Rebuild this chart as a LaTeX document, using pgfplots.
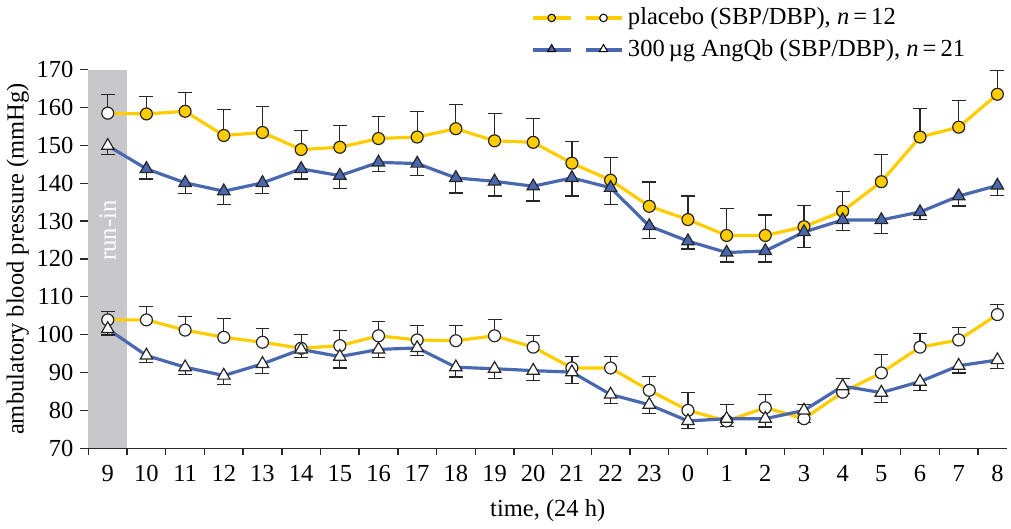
\documentclass[border=0pt]{standalone}
\usepackage{fontspec}
\setmainfont{Liberation Serif}
\usepackage{pgfplots}
\pgfplotsset{compat=1.18}
\usepackage{pgfplotstable}
\definecolor{ycol}{RGB}{255,204,0}
\definecolor{bcol}{RGB}{74,104,176}
\definecolor{runin}{RGB}{200,200,202}
\definecolor{axc}{RGB}{40,40,40}

\pgfplotstableread{
x y e
0 158.5 5.0
1 158.3 4.6
2 159.0 5.0
3 152.6 6.8
4 153.4 6.9
5 148.9 5.1
6 149.5 5.8
7 151.8 5.8
8 152.2 6.8
9 154.4 6.3
10 151.2 7.2
11 150.8 6.3
12 145.3 5.8
13 140.8 5.9
14 133.9 6.4
15 130.4 6.2
16 126.2 7.2
17 126.2 5.4
18 128.5 5.7
19 132.6 5.3
20 140.4 7.1
21 152.2 7.5
22 154.8 7.0
23 163.5 6.2
}\plaSBP

\pgfplotstableread{
x y e
0 149.9 2.4
1 143.8 2.7
2 140.1 2.9
3 137.9 3.6
4 140.1 2.9
5 143.8 2.7
6 142.0 3.5
7 145.5 2.4
8 145.2 3.1
9 141.4 4.0
10 140.5 3.9
11 139.2 3.9
12 141.4 4.8
13 138.8 4.4
14 128.7 3.4
15 124.7 2.1
16 121.7 2.5
17 122.1 2.9
18 127.1 4.1
19 130.3 2.7
20 130.3 3.6
21 132.4 2.0
22 136.6 2.6
23 139.4 2.6
}\angSBP

\pgfplotstableread{
x y e
0 103.9 2.2
1 103.9 3.6
2 101.2 3.5
3 99.3 5.0
4 98.0 3.7
5 96.4 3.7
6 97.1 4.1
7 99.7 3.8
8 98.6 3.8
9 98.4 4.0
10 99.7 4.2
11 96.7 3.0
12 91.2 3.1
13 91.2 3.1
14 85.3 3.6
15 80.0 4.7
16 77.2 4.4
17 80.7 3.6
18 77.8 3.8
19 84.8 3.7
20 89.9 4.8
21 96.7 3.7
22 98.6 3.3
23 105.3 2.6
}\plaDBP

\pgfplotstableread{
x y e
0 101.5 1.6
1 94.5 1.9
2 91.4 2.0
3 89.2 2.4
4 92.3 2.5
5 96.1 2.2
6 94.2 3.0
7 96.1 2.1
8 96.5 2.0
9 91.4 2.6
10 91.0 2.5
11 90.5 2.6
12 90.1 3.1
13 84.2 2.4
14 81.5 2.4
15 77.2 1.9
16 77.8 2.0
17 77.8 2.2
18 80.0 3.1
19 86.4 1.9
20 84.7 2.7
21 87.6 2.3
22 91.8 1.9
23 93.3 2.2
}\angDBP

\begin{document}
\begin{tikzpicture}[font=\fontsize{12.3}{14.8}\selectfont]
\begin{axis}[
  scale only axis,
  width=461pt, height=190pt,
  xmin=-0.5, xmax=23.25,
  ymin=70, ymax=170,
  axis x line*=bottom, axis y line*=left,
  axis line style={axc, line width=0.7pt, -},
  xtick={0,...,23},
  xticklabels={9,10,11,12,13,14,15,16,17,18,19,20,21,22,23,0,1,2,3,4,5,6,7,8},
  major x tick style={draw=none},
  minor xtick={-0.5,0.5,...,22.5},
  minor x tick style={axc, line width=0.7pt},
  minor tick length=3.5pt,
  ytick={70,80,...,170},
  major tick length=4pt,
  tick style={axc, line width=0.7pt},
  tick align=outside,
  x tick label style={yshift=-1pt},
  /pgf/number format/assume math mode=true,
  xlabel={time, (24 h)},
  ylabel={ambulatory blood pressure (mmHg)},
  xlabel style={yshift=-2pt},
  ylabel style={yshift=-3pt},
  clip=false,
  legend style={at={(0.475,1.185)}, anchor=north west, draw=none, fill=none,
    row sep=2pt, font=\fontsize{12.3}{14.8}\selectfont},
  legend cell align=left,
  error bars/error bar style={black!85, line width=0.6pt},
  error bars/error mark options={rotate=90, mark size=3.5pt, black!85, line width=0.6pt},
]
\fill[runin] (axis cs:-0.5,70) rectangle (axis cs:0.5,170);
\node[rotate=90, text=white] at (axis cs:0,127.5) {run-in};

\addlegendimage{legend image code/.code={
  \draw[ycol, line width=1.6pt] (0pt,0pt) -- (19pt,0pt);
  \draw[black, fill=ycol, line width=0.5pt] (9.5pt,0pt) circle (1.9pt);
  \draw[ycol, line width=1.6pt] (26.5pt,0pt) -- (45pt,0pt);
  \draw[black, fill=white, line width=0.5pt] (35.5pt,0pt) circle (1.9pt);
}}
\addlegendentry{placebo (SBP/DBP), \textit{n}\,=\,12}
\addlegendimage{legend image code/.code={
  \draw[bcol, line width=1.6pt] (0pt,0pt) -- (19pt,0pt);
  \path plot[mark=triangle*, mark size=2.4pt, mark options={draw=black, fill=bcol, line width=0.5pt}] coordinates {(9.5pt,0.3pt)};
  \draw[bcol, line width=1.6pt] (26.5pt,0pt) -- (45pt,0pt);
  \path plot[mark=triangle*, mark size=2.4pt, mark options={draw=black, fill=white, line width=0.5pt}] coordinates {(35.5pt,0.3pt)};
}}
\addlegendentry{300\,µg AngQb (SBP/DBP), \textit{n}\,=\,21}

% SBP placebo
\addplot[ycol, line width=1.6pt, mark=*, mark size=3pt, mark indices={2,...,24},
  mark options={draw=black!85, fill=ycol, line width=0.6pt},
  error bars/.cd, y dir=plus, y explicit]
  table[x=x, y=y, y error=e] {\plaSBP};
% SBP AngQb
\addplot[bcol, line width=1.6pt, mark=triangle*, mark size=3.6pt, mark indices={2,...,24},
  mark options={draw=black!85, fill=bcol, line width=0.6pt},
  error bars/.cd, y dir=minus, y explicit]
  table[x=x, y=y, y error=e] {\angSBP};
% DBP placebo
\addplot[ycol, line width=1.6pt, mark=*, mark size=3pt,
  mark options={draw=black!85, fill=white, line width=0.6pt},
  error bars/.cd, y dir=plus, y explicit]
  table[x=x, y=y, y error=e] {\plaDBP};
% DBP AngQb
\addplot[bcol, line width=1.6pt, mark=triangle*, mark size=3.6pt,
  mark options={draw=black!85, fill=white, line width=0.6pt},
  error bars/.cd, y dir=minus, y explicit]
  table[x=x, y=y, y error=e] {\angDBP};
% open markers at run-in for SBP
\addplot[only marks, mark=*, mark size=3pt, mark options={draw=black!85, fill=white, line width=0.6pt}]
  coordinates {(0,158.5)};
\addplot[only marks, mark=triangle*, mark size=3.6pt, mark options={draw=black!85, fill=white, line width=0.6pt}]
  coordinates {(0,149.9)};
\end{axis}
\end{tikzpicture}
\end{document}
